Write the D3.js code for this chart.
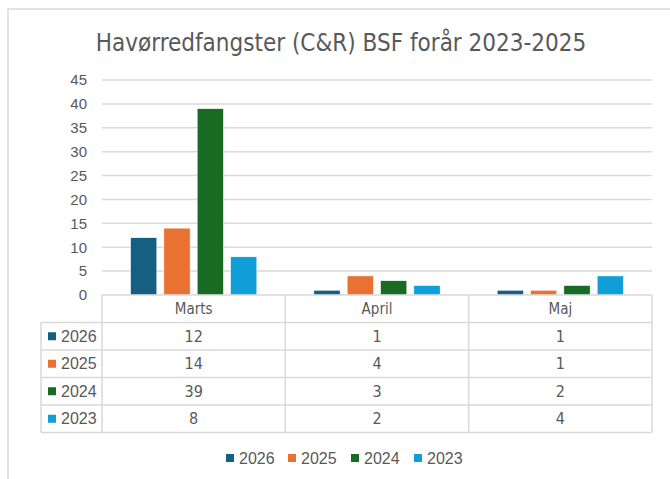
<!DOCTYPE html>
<html lang="da">
<head>
<meta charset="UTF-8"/>
<title>Havørredfangster</title>
<script src="https://d3js.org/d3.v7.min.js"></script>
<style>
    body { margin: 0; background: #fff; }
    text { fill: #595959; }
</style>
</head>
<body>
<div id="chart"></div>
<script>
    // data
    var months = ["Marts", "April", "Maj"];
    var years = ["2026", "2025", "2024", "2023"];
    var colors = ["#156082", "#E97132", "#196B24", "#0F9ED5"];
    var values = [
        [12, 1, 1],   // 2026
        [14, 4, 1],   // 2025
        [39, 3, 2],   // 2024
        [8, 2, 4]     // 2023
    ];
    var yTicks = [0, 5, 10, 15, 20, 25, 30, 35, 40, 45];

    var width = 670, height = 479;
    var plotLeft = 102, plotRight = 652, plotTop = 80, plotBottom = 295;
    var rowH = 27.5, tableLeft = 41;
    var narrow = "'Liberation Sans Narrow', 'DejaVu Sans Condensed', sans-serif";
    var grid = "#d9d9d9";

    var svg = d3.select("#chart").append("svg")
        .attr("width", width).attr("height", height);

    // chart frame (right and bottom sit outside the picture)
    svg.append("rect")
        .attr("x", 8).attr("y", 9).attr("width", 700).attr("height", 500)
        .attr("fill", "#fff").attr("stroke", grid).attr("stroke-width", 1.5);

    svg.append("text")
        .attr("x", 341).attr("y", 51)
        .attr("text-anchor", "middle")
        .style("font-family", narrow).style("font-size", "24px")
        .text("Havørredfangster (C&R) BSF forår 2023-2025");

    var x0 = d3.scaleBand().domain(months).range([plotLeft, plotRight]).paddingInner(0).paddingOuter(0);
    var x1 = d3.scaleBand().domain(years).range([0, x0.bandwidth()]).paddingInner(0.21).paddingOuter(0.855);
    var y = d3.scaleLinear().domain([0, 45]).range([plotBottom, plotTop]);

    // gridlines
    svg.append("g").selectAll("line").data(yTicks.slice(1)).enter().append("line")
        .attr("x1", plotLeft).attr("x2", plotRight)
        .attr("y1", function (d) { return y(d); })
        .attr("y2", function (d) { return y(d); })
        .attr("stroke", grid).attr("stroke-width", 1.5);

    var yAxis = d3.axisLeft(y).tickValues(yTicks).tickSize(0).tickPadding(15);
    var ga = svg.append("g").attr("transform", "translate(" + plotLeft + ",0)").call(yAxis);
    ga.select(".domain").remove();
    ga.selectAll("text").style("font-family", "'Liberation Sans', Arial, sans-serif")
        .style("font-size", "15px").attr("fill", "#595959");

    // bars
    var series = svg.append("g").selectAll("g").data(years).enter().append("g")
        .attr("fill", function (d, i) { return colors[i]; });
    series.selectAll("rect")
        .data(function (d, i) { return values[i].map(function (v, j) { return {year: d, month: months[j], v: v}; }); })
        .enter().append("rect")
        .attr("x", function (d) { return x0(d.month) + x1(d.year); })
        .attr("y", function (d) { return y(d.v); })
        .attr("width", x1.bandwidth())
        .attr("height", function (d) { return plotBottom - y(d.v); })
        .attr("stroke", "#fff").attr("stroke-width", 0.6);

    // data table
    var tbl = svg.append("g").attr("fill", "none").attr("stroke", grid).attr("stroke-width", 1.5);
    var tableBottom = plotBottom + rowH * 5;
    tbl.append("line").attr("x1", plotLeft).attr("x2", plotRight).attr("y1", plotBottom).attr("y2", plotBottom);
    for (var r = 1; r <= 5; r++) {
        tbl.append("line").attr("x1", tableLeft).attr("x2", plotRight)
            .attr("y1", plotBottom + rowH * r).attr("y2", plotBottom + rowH * r);
    }
    tbl.append("line").attr("x1", tableLeft).attr("x2", tableLeft)
        .attr("y1", plotBottom + rowH).attr("y2", tableBottom);
    months.forEach(function (m) {
        tbl.append("line").attr("x1", x0(m)).attr("x2", x0(m)).attr("y1", plotBottom).attr("y2", tableBottom);
    });
    tbl.append("line").attr("x1", plotRight).attr("x2", plotRight).attr("y1", plotBottom).attr("y2", tableBottom);

    svg.append("g").selectAll("text").data(months).enter().append("text")
        .attr("x", function (d) { return x0(d) + x0.bandwidth() / 2; })
        .attr("y", plotBottom + rowH / 2 + 5)
        .attr("text-anchor", "middle")
        .style("font-family", narrow).style("font-size", "15px")
        .text(function (d) { return d; });

    years.forEach(function (yr, i) {
        var cy = plotBottom + rowH * (i + 1) + rowH / 2;
        svg.append("rect").attr("x", 48).attr("y", cy - 4).attr("width", 8).attr("height", 8)
            .attr("fill", colors[i]);
        svg.append("text").attr("x", 61).attr("y", cy + 5.5)
            .style("font-family", "'Liberation Sans', Arial, sans-serif").style("font-size", "16px")
            .text(yr);
        values[i].forEach(function (v, j) {
            svg.append("text")
                .attr("x", x0(months[j]) + x0.bandwidth() / 2).attr("y", cy + 5.5)
                .attr("text-anchor", "middle")
                .style("font-family", narrow).style("font-size", "16px")
                .text(v);
        });
    });

    // legend
    var legX = [226, 288, 351, 414];
    var leg = svg.append("g").selectAll("g").data(years).enter().append("g")
        .attr("transform", function (d, i) { return "translate(" + legX[i] + ",458)"; });
    leg.append("rect").attr("x", 0).attr("y", -4).attr("width", 8).attr("height", 8)
        .attr("fill", function (d, i) { return colors[i]; });
    leg.append("text").attr("x", 13).attr("y", 5.5)
        .style("font-family", "'Liberation Sans', Arial, sans-serif").style("font-size", "16px")
        .text(function (d) { return d; });
</script>
</body>
</html>
